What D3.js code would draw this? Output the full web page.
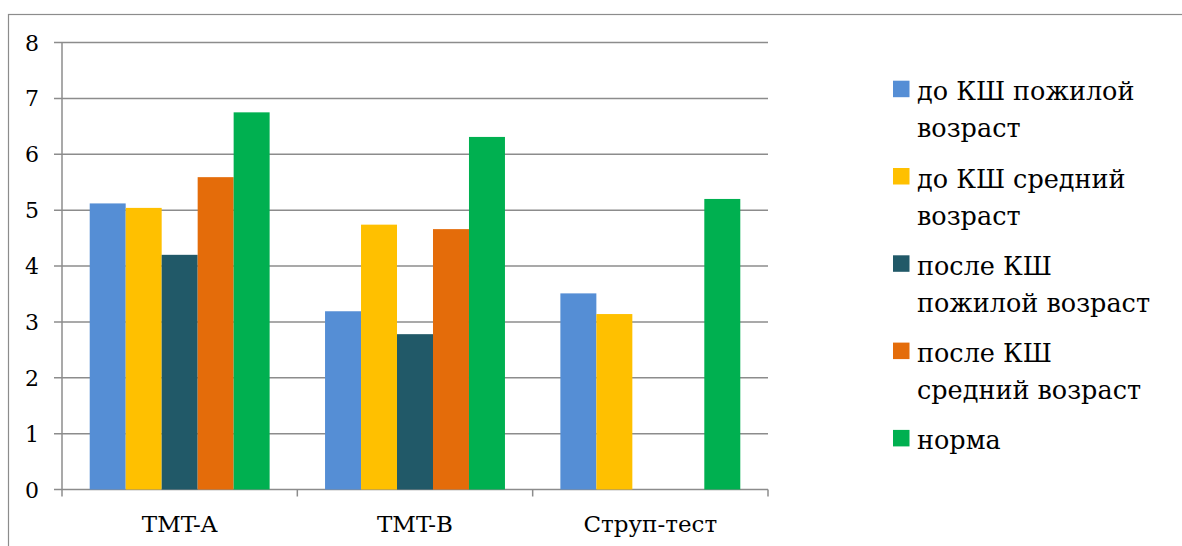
<!DOCTYPE html>
<html><head><meta charset="utf-8">
<script src="https://cdn.jsdelivr.net/npm/d3@7"></script>
<style>body{margin:0;background:#fff}svg{display:block}</style>
</head><body><svg id="c" width="1182" height="546"></svg>
<script>
const categories = ["TMT-A", "TMT-B", "Струп-тест"];
const seriesNames = ["до КШ пожилой возраст", "до КШ средний возраст", "после КШ пожилой возраст", "после КШ средний возраст", "норма"];
const legendLines = [["до КШ пожилой", "возраст"], ["до КШ средний", "возраст"], ["после КШ", "пожилой возраст"], ["после КШ", "средний возраст"], ["норма"]];
const colors = ["#558ED5", "#FFC000", "#215968", "#E46C0A", "#00B050"];
const values = [
  [5.12, 3.19, 3.51],
  [5.04, 4.74, 3.14],
  [4.20, 2.78, null],
  [5.59, 4.66, null],
  [6.75, 6.31, 5.20]
];
const yTicks = [0,1,2,3,4,5,6,7,8];

const FONT = "'DejaVu Serif', serif";
const svg = d3.select("#c").style("font-family", FONT);
const grid = "#8c8c8c";
svg.append("rect").attr("x",8.5).attr("y",14.5).attr("width",1200).attr("height",600)
  .attr("fill","none").attr("stroke",grid).attr("stroke-width",1.2);

const x0 = d3.scaleBand().domain(categories).range([62, 768]);
const x1 = d3.scaleBand().domain(d3.range(seriesNames.length)).range([0, x0.bandwidth()]).paddingOuter(0.77);
const y = d3.scaleLinear().domain([0, 8]).range([489.5, 42.5]);

svg.append("g").selectAll("line").data(yTicks).join("line")
  .attr("x1",54).attr("x2",768).attr("y1",d=>y(d)).attr("y2",d=>y(d))
  .attr("stroke",grid).attr("stroke-width",1.5);
svg.append("line").attr("x1",62).attr("x2",62).attr("y1",y(8)).attr("y2",y(0)).attr("stroke",grid).attr("stroke-width",1.5);
const xt = categories.map(c=>x0(c)).concat([768]);
svg.append("g").selectAll("line").data(xt).join("line")
  .attr("x1",d=>d).attr("x2",d=>d).attr("y1",y(0)).attr("y2",y(0)+7).attr("stroke",grid).attr("stroke-width",1.5);

svg.append("g").selectAll("text").data(yTicks).join("text")
  .attr("x",39).attr("y",d=>y(d)+8).attr("text-anchor","end").attr("font-size",22)
  .style("font-family",FONT).text(d=>d);

svg.append("g").selectAll("text").data(categories).join("text")
  .attr("x",d=>x0(d)+x0.bandwidth()/2).attr("y",532).attr("text-anchor","middle").attr("font-size",23)
  .style("font-family",FONT).text(d=>d);

const bars = [];
values.forEach((arr,s)=>arr.forEach((v,i)=>{ if(v!=null) bars.push({s,i,v}); }));
svg.append("g").selectAll("rect").data(bars).join("rect")
  .attr("x",d=>x0(categories[d.i])+x1(d.s)).attr("width",x1.bandwidth())
  .attr("y",d=>y(d.v)).attr("height",d=>y(0)-y(d.v)).attr("fill",d=>colors[d.s]);

const lg = svg.append("g");
legendLines.forEach((lines,k)=>{
  const top = 80.7 + k*87.3;
  lg.append("rect").attr("x",893).attr("y",top).attr("width",16.5).attr("height",16.5).attr("fill",colors[k]);
  lines.forEach((t,j)=>{
    lg.append("text").attr("x",917).attr("y",top+19.5+j*37).attr("font-size",25.5)
      .style("font-family",FONT).text(t);
  });
});
</script></body></html>
